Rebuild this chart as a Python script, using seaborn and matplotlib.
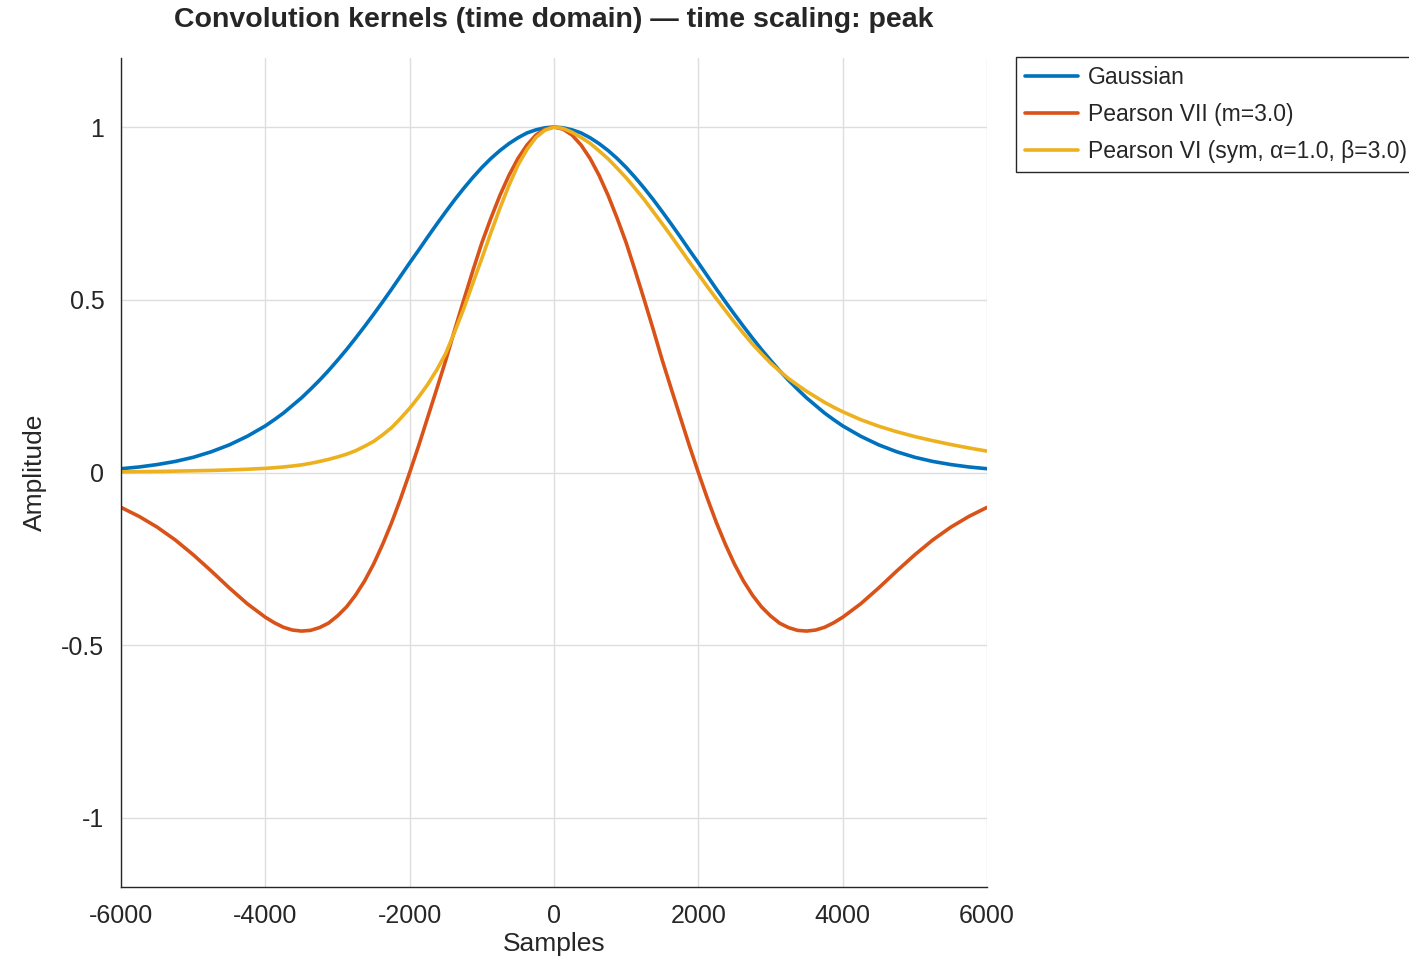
"""
Convolution kernels in the time domain (peak-normalised).
Gaussian, Pearson VII and symmetric Pearson VI kernels vs. sample offset.
"""

import pandas as pd
import matplotlib
matplotlib.use("Agg")
import matplotlib.pyplot as plt
import seaborn as sns

# sample offsets: 250 apart in the tails, 125 apart in the core
samples = [
    -6000, -5750, -5500, -5250, -5000, -4750, -4500, -4250,
    -4000, -3875, -3750, -3625, -3500, -3375, -3250, -3125,
    -3000, -2875, -2750, -2625, -2500, -2375, -2250, -2125,
    -2000, -1875, -1750, -1625, -1500, -1375, -1250, -1125,
    -1000, -875, -750, -625, -500, -375, -250, -125,
    0,
    125, 250, 375, 500, 625, 750, 875, 1000,
    1125, 1250, 1375, 1500, 1625, 1750, 1875, 2000,
    2125, 2250, 2375, 2500, 2625, 2750, 2875, 3000,
    3125, 3250, 3375, 3500, 3625, 3750, 3875, 4000,
    4250, 4500, 4750, 5000, 5250, 5500, 5750, 6000,
]

gaussian = [
    0.011, 0.016, 0.023, 0.032, 0.044, 0.060, 0.080, 0.105,
    0.135, 0.153, 0.172, 0.194, 0.216, 0.241, 0.267, 0.295,
    0.325, 0.356, 0.389, 0.423, 0.458, 0.494, 0.531, 0.569,
    0.607, 0.644, 0.682, 0.719, 0.755, 0.790, 0.823, 0.854,
    0.883, 0.909, 0.932, 0.952, 0.969, 0.983, 0.992, 0.998,
    1.000,
    0.998, 0.992, 0.983, 0.969, 0.952, 0.932, 0.909, 0.883,
    0.854, 0.823, 0.790, 0.755, 0.719, 0.682, 0.644, 0.607,
    0.569, 0.531, 0.494, 0.458, 0.423, 0.389, 0.356, 0.325,
    0.295, 0.267, 0.241, 0.216, 0.194, 0.172, 0.153, 0.135,
    0.105, 0.080, 0.060, 0.044, 0.032, 0.023, 0.016, 0.011,
]

pearson7 = [
    -0.101, -0.127, -0.158, -0.195, -0.238, -0.285, -0.334, -0.380,
    -0.419, -0.435, -0.448, -0.456, -0.459, -0.457, -0.449, -0.436,
    -0.415, -0.389, -0.355, -0.314, -0.265, -0.208, -0.145, -0.075,
    0.000, 0.078, 0.160, 0.242, 0.325, 0.414, 0.500, 0.584,
    0.665, 0.736, 0.802, 0.860, 0.909, 0.948, 0.977, 0.994,
    1.000,
    0.994, 0.977, 0.948, 0.909, 0.860, 0.802, 0.736, 0.665,
    0.584, 0.500, 0.414, 0.325, 0.242, 0.160, 0.078, 0.000,
    -0.075, -0.145, -0.208, -0.265, -0.314, -0.355, -0.389, -0.415,
    -0.436, -0.449, -0.457, -0.459, -0.456, -0.448, -0.435, -0.419,
    -0.380, -0.334, -0.285, -0.238, -0.195, -0.158, -0.127, -0.101,
]

pearson6 = [
    0.002, 0.0025, 0.003, 0.004, 0.005, 0.006, 0.0075, 0.0095,
    0.012, 0.0139, 0.016, 0.0188, 0.022, 0.0265, 0.032, 0.038,
    0.045, 0.053, 0.063, 0.076, 0.090, 0.109, 0.130, 0.157,
    0.186, 0.219, 0.255, 0.297, 0.345, 0.408, 0.475, 0.548,
    0.620, 0.694, 0.765, 0.831, 0.890, 0.935, 0.970, 0.991,
    1.000,
    0.996, 0.985, 0.970, 0.953, 0.931, 0.908, 0.881, 0.853,
    0.822, 0.790, 0.755, 0.720, 0.684, 0.647, 0.610, 0.574,
    0.538, 0.503, 0.469, 0.435, 0.403, 0.372, 0.344, 0.317,
    0.294, 0.272, 0.253, 0.235, 0.219, 0.203, 0.189, 0.176,
    0.153, 0.134, 0.118, 0.104, 0.092, 0.081, 0.071, 0.062,
]

labels = ["Gaussian", "Pearson VII (m=3.0)", "Pearson VI (sym, \u03b1=1.0, \u03b2=3.0)"]
colors = ["#0072BD", "#D95319", "#EDB120"]

x_ticks = [-6000, -4000, -2000, 0, 2000, 4000, 6000]
y_ticks = [-1, -0.5, 0, 0.5, 1]
y_tick_labels = ["-1", "-0.5", "0", "0.5", "1"]

sns.set_style("white")
plt.rcParams["font.family"] = ["Liberation Sans", "DejaVu Sans"]
plt.rcParams["axes.unicode_minus"] = False

df = pd.concat([
    pd.DataFrame({"Samples": samples, "Amplitude": vals, "kernel": name})
    for name, vals in zip(labels, [gaussian, pearson7, pearson6])
])

fig = plt.figure(figsize=(14.09, 9.6), dpi=100)
ax = fig.add_axes([0.0859, 0.076, 0.6146, 0.8636])

sns.lineplot(data=df, x="Samples", y="Amplitude", hue="kernel",
             hue_order=labels, palette=colors, linewidth=2.6, ax=ax,
             legend=False, sort=False)

ax.set_xlim(-6000, 6000)
ax.set_ylim(-1.2, 1.2)
ax.set_xticks(x_ticks)
ax.set_xticklabels([str(t) for t in x_ticks])
ax.set_yticks(y_ticks)
ax.set_yticklabels(y_tick_labels)
ax.grid(True, color="#dedede", linewidth=1)
ax.set_axisbelow(True)

for side in ["top", "right"]:
    ax.spines[side].set_visible(False)
for side in ["left", "bottom"]:
    ax.spines[side].set_color("#262626")
    ax.spines[side].set_linewidth(1)

ax.tick_params(direction="in", length=6, width=1, colors="#262626",
               labelsize=18, pad=12)
ax.set_xlabel("Samples", fontsize=19, color="#262626", labelpad=3)
ax.set_ylabel("Amplitude", fontsize=19, color="#262626", labelpad=10)
ax.set_title("Convolution kernels (time domain) \u2014 time scaling: peak",
             fontsize=20.5, fontweight="bold", pad=22)

handles = [plt.Line2D([], [], color=c, linewidth=2.6) for c in colors]
leg = ax.legend(handles, labels, loc="upper left",
                bbox_to_anchor=(1.0335, 1.0012), borderaxespad=0,
                frameon=True, fancybox=False, framealpha=1,
                edgecolor="#262626", fontsize=16.5, handlelength=2.3,
                handletextpad=0.45, labelspacing=0.6, borderpad=0.4)
leg.get_frame().set_linewidth(1)

fig.savefig("out.png", dpi=100)
